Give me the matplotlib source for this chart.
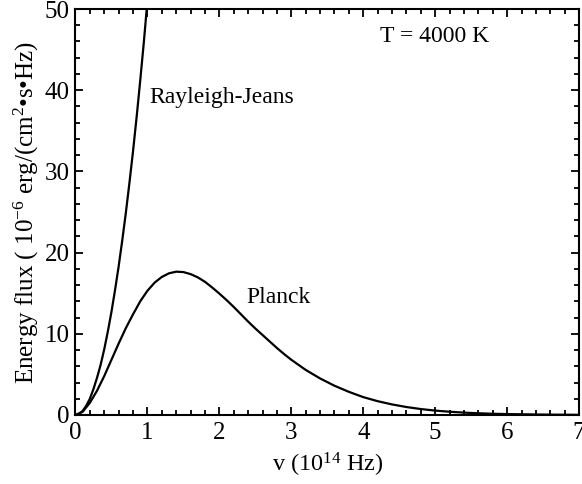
import numpy as np
import matplotlib.pyplot as plt
from matplotlib.ticker import MultipleLocator

plt.rcParams['font.family'] = ['Liberation Serif', 'DejaVu Serif']
plt.rcParams['mathtext.fontset'] = 'custom'
plt.rcParams['mathtext.rm'] = 'Liberation Serif'
plt.rcParams['mathtext.it'] = 'Liberation Serif:italic'

# values (nu in 1e14 Hz, flux in 1e-6 erg/(cm2 s Hz))
rj_nu = [0, 0.05, 0.1, 0.15, 0.2, 0.25, 0.3, 0.35, 0.4, 0.45, 0.5, 0.55,
         0.6, 0.65, 0.7, 0.75, 0.8, 0.85, 0.9, 0.95, 0.99]
rj_flux = [0, 0.13, 0.5, 1.15, 2.0, 3.2, 4.6, 6.2, 8.1, 10.3, 12.7, 15.4,
           18.3, 21.5, 24.9, 28.6, 32.5, 36.7, 41.2, 45.9, 50.0]

planck_nu = [0, 0.1, 0.2, 0.3, 0.4, 0.5, 0.6, 0.7, 0.8, 0.9, 1.0, 1.1, 1.2,
             1.3, 1.4, 1.5, 1.6, 1.7, 1.8, 1.9, 2.0, 2.1, 2.2, 2.3, 2.4, 2.5,
             2.6, 2.7, 2.8, 2.9, 3.0, 3.2, 3.4, 3.6, 3.8, 4.0, 4.2, 4.4, 4.6,
             4.8, 5.0, 5.2, 5.4, 5.6, 5.8, 6.0, 6.5, 7.0]
planck_flux = [0, 0.4, 1.5, 3.0, 4.8, 6.8, 8.8, 10.7, 12.4, 14.0, 15.3, 16.3,
               17.0, 17.45, 17.65, 17.6, 17.35, 16.95, 16.4, 15.7, 14.95,
               14.15, 13.3, 12.4, 11.5, 10.65, 9.85, 9.05, 8.25, 7.5, 6.8,
               5.55, 4.5, 3.6, 2.85, 2.2, 1.7, 1.3, 0.98, 0.73, 0.54, 0.4,
               0.29, 0.21, 0.15, 0.11, 0.05, 0.02]

fig = plt.figure(figsize=(5.82, 4.84), dpi=100)
ax = fig.add_axes([0.1297, 0.1426, 0.8653, 0.8388])

ax.plot(rj_nu, rj_flux, color='black', lw=1.6, solid_capstyle='butt')
ax.plot(planck_nu, planck_flux, color='black', lw=1.6)

ax.set_xlim(0, 7)
ax.set_ylim(0, 50)
ax.xaxis.set_major_locator(MultipleLocator(1))
ax.xaxis.set_minor_locator(MultipleLocator(0.2))
ax.yaxis.set_major_locator(MultipleLocator(10))
ax.yaxis.set_minor_locator(MultipleLocator(2))
ax.tick_params(which='both', direction='in', top=True, right=True,
               labelsize=18, width=1.3)
ax.tick_params(which='major', length=6)
ax.tick_params(which='minor', length=3.5)
ax.tick_params(axis='x', pad=5)
ax.tick_params(axis='y', pad=4)
for s in ax.spines.values():
    s.set_linewidth(1.5)

ax.set_xlabel(r'v (10$^{14}$ Hz)', fontsize=17.5, labelpad=5)
ax.set_ylabel(r'Energy flux ( 10$^{-6}$ erg/(cm$^{2}$•s•Hz)', fontsize=18,
              labelpad=3)

ax.text(4.23, 46.6, 'T = 4000 K', fontsize=17, va='center')
ax.text(1.03, 39.1, 'Rayleigh-Jeans', fontsize=17, va='center')
ax.text(2.38, 14.5, 'Planck', fontsize=17, va='center')

fig.savefig('out.png', dpi=100)
